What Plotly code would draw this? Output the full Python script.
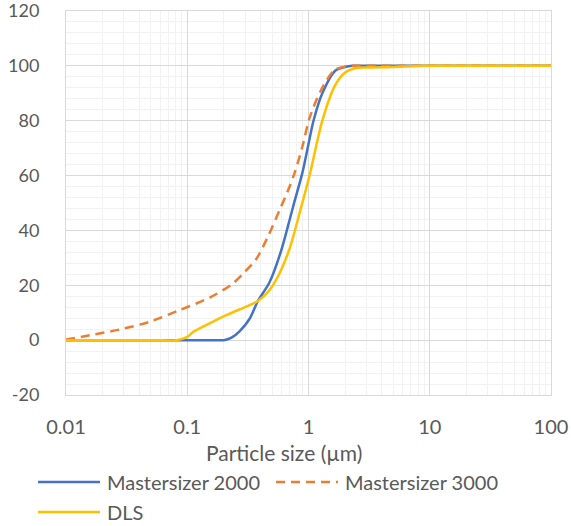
import plotly.graph_objects as go

# Cumulative particle size distributions (% passing vs particle size in µm)
ms2000_size = [0.01, 0.05, 0.1, 0.15, 0.2, 0.23, 0.27, 0.327, 0.383, 0.476, 0.594, 0.7,
               0.766, 0.89, 1.0, 1.1, 1.3, 1.67, 2.0, 2.3, 3, 5, 10, 30, 100]
ms2000_pct = [0, 0, 0, 0, 0, 0.8, 3.2, 7.8, 14.3, 21, 32.5, 44,
              50.5, 61, 71.5, 80, 90, 98.3, 99.6, 100, 100, 100, 100, 100, 100]

ms3000_size = [0.01, 0.0158, 0.0278, 0.049, 0.086, 0.153, 0.237, 0.3, 0.37, 0.46, 0.577,
               0.67, 0.766, 0.89, 1.02, 1.27, 1.64, 2.0, 2.3, 3, 10, 100]
ms3000_pct = [0.2, 1.8, 3.9, 6.7, 10.9, 15.5, 20.6, 25, 29.5, 37.5, 47.4,
              54, 60.8, 70.5, 81, 91.2, 98.5, 99.7, 100, 100, 100, 100]

dls_size = [0.01, 0.05, 0.0815, 0.1, 0.112, 0.153, 0.21, 0.27, 0.306, 0.383, 0.476, 0.576,
            0.7, 0.87, 1.02, 1.3, 1.64, 1.97, 2.46, 3, 5, 10, 100]
dls_pct = [0, 0, 0, 1.2, 3.0, 6.1, 9.1, 11.2, 12.2, 14.3, 18.2, 24.3,
           33.5, 48.5, 60, 80, 92.5, 97.3, 99.2, 99.4, 99.6, 100, 100]

series_names = ["Mastersizer 2000", "Mastersizer 3000", "DLS"]
series_colors = ["#4472C4", "#ED7D31", "#FFC000"]
series_dash = ["solid", "9px,6px", "solid"]

x_tick_vals = [0.01, 0.1, 1, 10, 100]
x_tick_text = ["0.01", "0.1", "1", "10", "100"]
x_minor_vals = [k * d for d in (0.01, 0.1, 1, 10) for k in range(2, 10)]

y_tick_vals = [-20, 0, 20, 40, 60, 80, 100, 120]
y_tick_text = ["-20", "0", "20", "40", "60", "80", "100", "120"]

x_title = "Particle size (µm)"

FONT = "Lato, 'Open Sans', sans-serif"
TEXT = "#595959"
W, H = 571, 526
M = dict(l=66, r=20, t=11, b=131)

fig = go.Figure()
data = [(ms2000_size, ms2000_pct), (ms3000_size, ms3000_pct), (dls_size, dls_pct)]
for i, (xs, ys) in enumerate(data):
    fig.add_trace(go.Scatter(
        x=xs, y=ys, mode="lines", name=series_names[i],
        line=dict(color=series_colors[i], width=2.5, dash=series_dash[i],
                  shape="spline", smoothing=0.8),
        showlegend=False,
    ))

fig.update_xaxes(
    type="log", range=[-2, 2], automargin=False,
    tickvals=x_tick_vals, ticktext=x_tick_text,
    showgrid=True, gridcolor="#D9D9D9", gridwidth=1,
    minor=dict(tickvals=x_minor_vals, showgrid=True, gridcolor="#F2F2F2", gridwidth=1),
    showline=True, linecolor="#D9D9D9", mirror=True,
    ticks="", ticklabelstandoff=14, ticklabeloverflow="allow",
    tickfont=dict(family=FONT, size=20, color=TEXT),
    zeroline=False,
)
fig.update_yaxes(
    range=[-20, 120], automargin=False,
    tickvals=y_tick_vals, ticktext=y_tick_text,
    showgrid=True, gridcolor="#D9D9D9", gridwidth=1,
    minor=dict(dtick=4, showgrid=True, gridcolor="#F2F2F2", gridwidth=1),
    showline=True, linecolor="#D9D9D9", mirror=True,
    ticks="", ticklabelstandoff=22, ticklabeloverflow="allow",
    tickfont=dict(family=FONT, size=18, color=TEXT),
    zeroline=False,
)

# Axis title and legend below the plot area, laid out in pixels
plot_w = W - M["l"] - M["r"]
plot_h = H - M["t"] - M["b"]


def px(x):
    return (x - M["l"]) / plot_w


def py(y):
    return (H - M["b"] - y) / plot_h


fig.add_annotation(xref="paper", yref="paper", x=px(W / 2 - 2), y=py(452),
                   xanchor="center", yanchor="middle", showarrow=False,
                   text=x_title, font=dict(family=FONT, size=21, color=TEXT))

legend_items = [(0, 38, 482), (1, 276, 482), (2, 38, 512)]
for i, x0, y0 in legend_items:
    fig.add_shape(type="line", xref="paper", yref="paper",
                  x0=px(x0), x1=px(x0 + 62), y0=py(y0), y1=py(y0),
                  line=dict(color=series_colors[i], width=2.5, dash=series_dash[i]))
    fig.add_annotation(xref="paper", yref="paper", x=px(x0 + 67), y=py(y0),
                       xanchor="left", yanchor="middle", showarrow=False,
                       text=series_names[i],
                       font=dict(family=FONT, size=20, color=TEXT))

fig.update_layout(
    width=W, height=H, margin=M,
    paper_bgcolor="white", plot_bgcolor="white",
    showlegend=False,
)

fig.write_html("out.html")
